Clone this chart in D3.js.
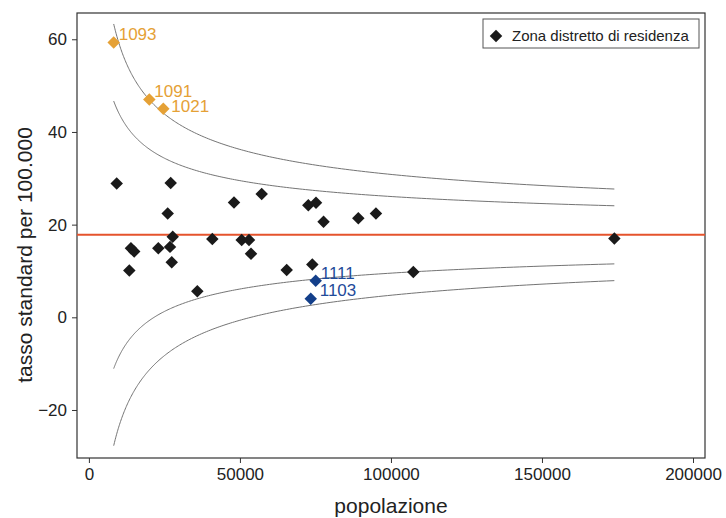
<!DOCTYPE html>
<html>
<head>
<meta charset="utf-8">
<script src="https://cdn.jsdelivr.net/npm/d3@7"></script>
<style>
  body { margin: 0; background: #fff; }
  text { font-family: "Liberation Sans", Arial, sans-serif; }
</style>
</head>
<body>
<div id="vis"></div>
<script>
const WIDTH = 726;
const HEIGHT = 518;

// zone distretto (punti neri)
const zonePop = [9200, 27080, 48040, 57210, 72640, 75190, 26090, 77680, 89200, 95030,
	27750, 13910, 15000, 22980, 26850, 40860, 50590, 53010, 53670, 27420,
	13380, 65490, 73970, 35890, 107410, 173960];
const zoneTasso = [28.9, 29.0, 24.8, 26.6, 24.2, 24.7, 22.4, 20.6, 21.4, 22.4,
	17.4, 14.9, 14.2, 14.9, 15.2, 16.9, 16.7, 16.7, 13.7, 11.9,
	10.1, 10.2, 11.4, 5.6, 9.8, 17.0];

// zone sopra il limite superiore
const altiId = ["1093", "1091", "1021"];
const altiPop = [8210, 20000, 24630];
const altiTasso = [59.3, 47.0, 45.0];

// zone sotto il limite inferiore
const bassiId = ["1111", "1103"];
const bassiPop = [75090, 73440];
const bassiTasso = [7.9, 4.0];

// tasso di riferimento e livelli dei limiti di controllo (95% e 99.8%)
const tassoRif = 17.8;
const zLivelli = [1.96, 3.09];

const xTicks = [0, 50000, 100000, 150000, 200000];
const yTicks = [-20, 0, 20, 40, 60];

// label nudges (px), default is right and a bit above the marker
const labelShift = { "1021": [8, -3], "1103": [9, -9] };

const margin = { top: 13, right: 21, bottom: 60, left: 77 };
const w = WIDTH - margin.left - margin.right;
const h = HEIGHT - margin.top - margin.bottom;

const svg = d3.select('#vis').append('svg')
	.attr('width', WIDTH)
	.attr('height', HEIGHT);

const g = svg.append('g')
	.attr('transform', `translate(${margin.left},${margin.top})`);

const x = d3.scaleLinear().domain([-3940, 203970]).range([0, w]);
const y = d3.scaleLinear().domain([-30.36, 65.67]).range([h, 0]);

// axes
const xAxis = g.append('g')
	.attr('transform', `translate(0,${h})`)
	.call(d3.axisBottom(x).tickValues(xTicks).tickFormat(d3.format('d')).tickSize(5).tickPadding(5));
const yAxis = g.append('g')
	.call(d3.axisLeft(y).tickValues(yTicks).tickFormat(d => d < 0 ? '\u2212' + Math.abs(d) : d).tickSize(5).tickPadding(5));

[xAxis, yAxis].forEach(a => {
	a.select('.domain').remove();
	a.selectAll('line').attr('stroke', '#333');
	a.selectAll('text').attr('fill', '#222').style('font-size', '17px')
		.style('font-family', '"Liberation Sans", Arial, sans-serif');
});

// frame
g.append('rect')
	.attr('width', w)
	.attr('height', h)
	.attr('fill', 'none')
	.attr('stroke', '#333')
	.attr('stroke-width', 1.2);

// funnel limits
const allPop = zonePop.concat(altiPop, bassiPop);
const nMin = d3.min(allPop), nMax = d3.max(allPop);
const nGrid = d3.range(0, 201).map(i => nMin * Math.pow(nMax / nMin, i / 200));
const se = n => Math.sqrt(tassoRif * 100000 / n);

const line = d3.line().x(d => x(d[0])).y(d => y(d[1]));
zLivelli.forEach(z => {
	[1, -1].forEach(s => {
		g.append('path')
			.datum(nGrid.map(n => [n, tassoRif + s * z * se(n)]))
			.attr('d', line)
			.attr('fill', 'none')
			.attr('stroke', '#747474')
			.attr('stroke-width', 1);
	});
});

// reference line
g.append('line')
	.attr('x1', 0).attr('x2', w)
	.attr('y1', y(tassoRif)).attr('y2', y(tassoRif))
	.attr('stroke', '#e5532c')
	.attr('stroke-width', 2);

const diamond = d3.symbol().type(d3.symbolSquare).size(78);

function drawPoints(pop, tasso, colour) {
	g.append('g').selectAll('path')
		.data(pop.map((p, i) => ({ p, t: tasso[i] })))
		.enter().append('path')
		.attr('d', diamond)
		.attr('transform', d => `translate(${x(d.p)},${y(d.t)}) rotate(45)`)
		.attr('fill', colour);
}

function drawLabels(ids, pop, tasso, colour) {
	g.append('g').selectAll('text')
		.data(ids.map((id, i) => ({ id, p: pop[i], t: tasso[i] })))
		.enter().append('text')
		.attr('x', d => x(d.p) + (labelShift[d.id] || [5, -8])[0])
		.attr('y', d => y(d.t) + (labelShift[d.id] || [5, -8])[1])
		.attr('dy', '0.35em')
		.attr('fill', colour)
		.style('font-size', '17px')
		.text(d => d.id);
}

drawPoints(zonePop, zoneTasso, '#1a1a1a');
drawPoints(altiPop, altiTasso, '#e5a136');
drawPoints(bassiPop, bassiTasso, '#133f8a');
drawLabels(altiId, altiPop, altiTasso, '#e5a136');
drawLabels(bassiId, bassiPop, bassiTasso, '#1f4b9a');

// axis titles
svg.append('text')
	.attr('x', margin.left + w / 2)
	.attr('y', 513)
	.attr('text-anchor', 'middle')
	.attr('fill', '#222')
	.style('font-size', '21px')
	.text('popolazione');

svg.append('text')
	.attr('transform', 'translate(32,255) rotate(-90)')
	.attr('text-anchor', 'middle')
	.attr('fill', '#222')
	.style('font-size', '21px')
	.text('tasso standard per 100.000');

// legend
const legend = svg.append('g').attr('transform', 'translate(483,19)');
legend.append('rect')
	.attr('width', 216)
	.attr('height', 29)
	.attr('fill', '#fff')
	.attr('stroke', '#555')
	.attr('stroke-width', 1);
legend.append('path')
	.attr('d', diamond)
	.attr('transform', 'translate(13,17) rotate(45)')
	.attr('fill', '#1a1a1a');
legend.append('text')
	.attr('x', 29)
	.attr('y', 17)
	.attr('dy', '0.35em')
	.attr('fill', '#222')
	.style('font-size', '15px')
	.text('Zona distretto di residenza');
</script>
</body>
</html>
